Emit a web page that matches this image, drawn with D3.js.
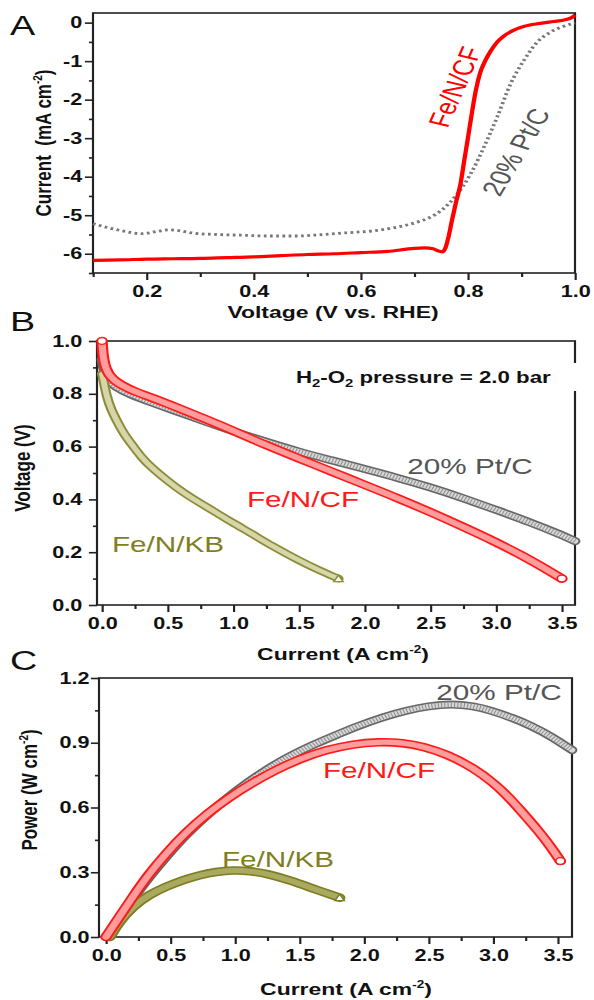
<!DOCTYPE html>
<html>
<head>
<meta charset="utf-8">
<script src="https://cdn.jsdelivr.net/npm/d3@7"></script>
<style>
body { margin: 0; background: #fff; }
svg { display: block; font-family: "Liberation Sans", Arial, sans-serif; }
.axis text { font-weight: bold; font-size: 16px; fill: #111; }
.axis line { stroke: #222; stroke-width: 1.6; }
.axis path.domain { display: none; }
.frame { fill: none; stroke: #222; stroke-width: 1.6; }
.title { font-weight: bold; font-size: 17px; fill: #111; }
.letter { font-size: 28px; fill: #111; }
.curve-label { font-size: 22px; }
</style>
</head>
<body>
<div id="chart"></div>
<script>
// ---- panel A: LSV curves (V vs RHE, mA cm-2)
var lsvFeNCF = [[0.10,-6.17],[0.15,-6.16],[0.20,-6.14],[0.25,-6.13],[0.30,-6.12],[0.35,-6.10],[0.40,-6.08],
    [0.45,-6.05],[0.50,-6.02],[0.55,-6.00],[0.60,-5.97],[0.65,-5.94],[0.70,-5.86],[0.72,-5.85],[0.735,-5.87],
    [0.745,-5.93],[0.752,-5.95],[0.758,-5.85],[0.764,-5.55],[0.770,-5.15],[0.778,-4.65],[0.786,-4.2],[0.793,-3.6],
    [0.800,-3.0],[0.808,-2.3],[0.815,-1.75],[0.823,-1.3],[0.832,-1.0],[0.842,-0.75],[0.855,-0.5],[0.867,-0.35],
    [0.885,-0.2],[0.904,-0.1],[0.935,-0.02],[0.96,0.03],[0.98,0.07],[0.995,0.14],[1.0,0.2]];
var lsvPtC = [[0.10,-5.22],[0.13,-5.33],[0.16,-5.42],[0.19,-5.48],[0.22,-5.42],[0.24,-5.38],[0.26,-5.40],
    [0.29,-5.47],[0.33,-5.50],[0.38,-5.52],[0.43,-5.54],[0.48,-5.54],[0.53,-5.50],[0.58,-5.45],[0.62,-5.41],
    [0.66,-5.33],[0.70,-5.20],[0.73,-5.05],[0.75,-4.88],[0.78,-4.45],[0.805,-3.93],[0.83,-3.23],[0.855,-2.44],
    [0.88,-1.58],[0.905,-0.97],[0.93,-0.50],[0.955,-0.24],[0.978,-0.10],[1.0,-0.01]];
var aTicksX = [0.2, 0.4, 0.6, 0.8, 1.0];
var aMinorX = [0.1, 0.3, 0.5, 0.7, 0.9];
var aTicksY = [0, -1, -2, -3, -4, -5, -6];
var aMinorY = [-0.5, -1.5, -2.5, -3.5, -4.5, -5.5, -6.5];

// ---- panel B: polarization curves (A cm-2, V)
var polFeNCF = [[0,1.0],[0.005,0.96],[0.01,0.94],[0.02,0.91],[0.04,0.885],[0.06,0.868],[0.1,0.848],[0.16,0.83],
    [0.25,0.808],[0.37,0.787],[0.5,0.762],[0.62,0.738],[0.8,0.702],[1.0,0.66],[1.25,0.605],[1.5,0.555],[1.75,0.505],
    [2.0,0.455],[2.25,0.405],[2.5,0.352],[2.75,0.296],[3.0,0.238],[3.2,0.187],[3.35,0.145],[3.5,0.1]];
var polPtC = [[0,0.93],[0.01,0.9],[0.03,0.87],[0.06,0.845],[0.1,0.828],[0.2,0.8],[0.4,0.763],[0.6,0.728],
    [0.8,0.692],[1.0,0.658],[1.25,0.618],[1.5,0.58],[1.75,0.548],[2.0,0.515],[2.25,0.482],[2.5,0.446],
    [2.75,0.405],[3.0,0.36],[3.25,0.315],[3.5,0.265],[3.6,0.242]];
var polFeNKB = [[0,0.875],[0.01,0.855],[0.035,0.79],[0.07,0.74],[0.11,0.7],[0.17,0.645],[0.24,0.6],[0.3,0.56],
    [0.365,0.526],[0.5,0.47],[0.62,0.425],[0.75,0.385],[0.87,0.35],[1.0,0.31],[1.13,0.273],[1.3,0.222],
    [1.5,0.168],[1.65,0.132],[1.8,0.1]];
var bTicksX = [0, 0.5, 1.0, 1.5, 2.0, 2.5, 3.0, 3.5];
var bMinorX = [0.25, 0.75, 1.25, 1.75, 2.25, 2.75, 3.25];
var bTicksY = [0, 0.2, 0.4, 0.6, 0.8, 1.0];
var bMinorY = [0.1, 0.3, 0.5, 0.7, 0.9];

// ---- panel C: power density (A cm-2, W cm-2)
var powFeNCF = [[0,0],[0.1,0.09],[0.21,0.188],[0.33,0.29],[0.47,0.39],[0.62,0.485],[0.78,0.57],[0.95,0.645],
    [1.12,0.71],[1.3,0.77],[1.5,0.825],[1.7,0.866],[1.9,0.893],[2.12,0.905],[2.3,0.9],[2.46,0.883],[2.65,0.845],
    [2.85,0.782],[3.0,0.715],[3.1,0.66],[3.2,0.595],[3.36,0.485],[3.45,0.415],[3.52,0.352]];
var powPtC = [[0,0],[0.1,0.085],[0.21,0.178],[0.33,0.275],[0.47,0.375],[0.62,0.475],[0.8,0.575],[1.0,0.675],
    [1.25,0.78],[1.43,0.84],[1.6,0.89],[1.8,0.94],[1.94,0.975],[2.15,1.02],[2.33,1.05],[2.5,1.07],[2.67,1.08],
    [2.85,1.07],[2.98,1.05],[3.15,1.015],[3.29,0.98],[3.45,0.93],[3.61,0.866]];
var powFeNKB = [[0.03,0],[0.1,0.07],[0.21,0.142],[0.33,0.195],[0.47,0.235],[0.6,0.265],[0.73,0.288],[0.85,0.302],
    [0.985,0.31],[1.12,0.306],[1.25,0.293],[1.43,0.262],[1.6,0.225],[1.81,0.182]];
var cTicksY = [0, 0.3, 0.6, 0.9, 1.2];
var cMinorY = [0.15, 0.45, 0.75, 1.05];

// the original figure is stretched sideways, so draw in a narrower box and stretch it
var SX = 594 / 440;

var svg = d3.select("#chart")
    .append("svg")
    .attr("width", 594)
    .attr("height", 1000)
    .attr("viewBox", "0 0 440 1000")
    .attr("preserveAspectRatio", "none");

var RED = "#ff1a1a", OLIVE = "#7f7f1e";

function panel(cfg) {
    var x = d3.scaleLinear().domain(cfg.xDomain).range([cfg.left / SX, cfg.right / SX]);
    var y = d3.scaleLinear().domain(cfg.yDomain).range([cfg.bottom, cfg.top]);
    var g = svg.append("g");

    g.append("g").attr("class", "axis")
        .attr("transform", "translate(0," + cfg.bottom + ")")
        .call(d3.axisBottom(x).tickValues(cfg.xMinor).tickSize(4).tickFormat(""));
    g.append("g").attr("class", "axis")
        .attr("transform", "translate(0," + cfg.bottom + ")")
        .call(d3.axisBottom(x).tickValues(cfg.xTicks).tickSize(7).tickPadding(6).tickFormat(cfg.xFormat));
    g.append("g").attr("class", "axis")
        .attr("transform", "translate(" + cfg.left / SX + ",0)")
        .call(d3.axisLeft(y).tickValues(cfg.yMinor).tickSize(3).tickFormat(""));
    g.append("g").attr("class", "axis")
        .attr("transform", "translate(" + cfg.left / SX + ",0)")
        .call(d3.axisLeft(y).tickValues(cfg.yTicks).tickSize(6).tickPadding(cfg.yPad).tickFormat(cfg.yFormat));

    g.append("rect").attr("class", "frame")
        .attr("x", cfg.left / SX).attr("y", cfg.top)
        .attr("width", (cfg.right - cfg.left) / SX).attr("height", cfg.bottom - cfg.top);

    g.append("text").attr("class", "letter")
        .attr("x", 10 / SX).attr("y", cfg.letterY).text(cfg.letter);

    return {g: g, x: x, y: y};
}

// text with a superscript like "cm-2"
function supText(sel, before, sup, after) {
    sel.append("tspan").text(before);
    sel.append("tspan").attr("dy", -7).style("font-size", "10px").text(sup);
    sel.append("tspan").attr("dy", 7).text(after);
}

function xTitle(cx, y, before, sup, after) {
    var t = svg.append("text").attr("class", "title")
        .attr("x", cx / SX).attr("y", y).attr("text-anchor", "middle");
    if (sup) supText(t, before, sup, after); else t.text(before);
}

function yTitle(bx, cy, before, sup, after) {
    var t = svg.append("text").attr("class", "title")
        .attr("transform", "translate(" + bx / SX + "," + cy + ") rotate(-90)")
        .attr("text-anchor", "middle");
    if (sup) supText(t, before, sup, after); else t.text(before);
}

// thick band of dense open markers, drawn as an outlined tube
function tube(p, data, st) {
    var line = d3.line()
        .x(function(d) { return p.x(d[0]); })
        .y(function(d) { return p.y(d[1]); })
        .curve(d3.curveBasis);
    p.g.append("path").datum(data).attr("d", line)
        .attr("fill", "none").attr("stroke", st.edge).attr("stroke-width", st.w)
        .attr("stroke-linejoin", "round").attr("stroke-linecap", "round");
    p.g.append("path").datum(data).attr("d", line)
        .attr("fill", "none").attr("stroke", st.core).attr("stroke-width", st.w - 3.2)
        .attr("stroke-linejoin", "round").attr("stroke-linecap", "round");
    if (st.hatch) {
        p.g.append("path").datum(data).attr("d", line)
            .attr("fill", "none").attr("stroke", st.hatch).attr("stroke-width", st.w - 3.2)
            .attr("stroke-dasharray", "0.8,1.6");
    }
}

function endMarker(p, d, shape, color) {
    var cx = p.x(d[0]), cy = p.y(d[1]);
    if (shape == "circle") {
        p.g.append("circle").attr("cx", cx).attr("cy", cy).attr("r", 3.4)
            .attr("fill", "#fff").attr("stroke", color).attr("stroke-width", 1.3);
    } else if (shape == "triangle") {
        p.g.append("path")
            .attr("d", "M" + (cx - 3.5) + "," + (cy + 3) + "L" + (cx + 3.5) + "," + (cy + 3) + "L" + cx + "," + (cy - 3.5) + "Z")
            .attr("fill", "#fff").attr("stroke", color).attr("stroke-width", 1.2);
    } else {
        p.g.append("rect").attr("x", cx - 3).attr("y", cy - 3.5).attr("width", 6).attr("height", 7)
            .attr("fill", "#fff").attr("stroke", color).attr("stroke-width", 1.2);
    }
}

function label(p, px, py, txt, color, rot) {
    var t = p.g.append("text").attr("class", "curve-label")
        .attr("fill", color).text(txt);
    if (rot) {
        t.attr("transform", "translate(" + px / SX + "," + py + ") rotate(" + rot + ")")
            .attr("text-anchor", "middle").attr("dominant-baseline", "central");
    } else {
        t.attr("x", px / SX).attr("y", py).attr("text-anchor", "middle");
    }
}

var fmt1 = d3.format(".1f");

// ================= A
var pa = panel({
    left: 93, right: 575, top: 13, bottom: 273,
    xDomain: [0.1, 1.0], yDomain: [-6.5, 0.25],
    xTicks: aTicksX, xMinor: aMinorX, yTicks: aTicksY, yMinor: aMinorY,
    xFormat: fmt1, yFormat: function(d) { return String(d); }, yPad: 2,
    letter: "A", letterY: 35
});

var lineA = d3.line()
    .x(function(d) { return pa.x(d[0]); })
    .y(function(d) { return pa.y(d[1]); })
    .curve(d3.curveMonotoneX);

pa.g.append("path").datum(lsvPtC).attr("d", lineA)
    .attr("fill", "none").attr("stroke", "#777").attr("stroke-width", 2.8)
    .attr("stroke-dasharray", "2,2.6");
pa.g.append("path").datum(lsvFeNCF).attr("d", lineA)
    .attr("fill", "none").attr("stroke", "#ff0000").attr("stroke-width", 3.2);

label(pa, 455, 87, "Fe/N/CF", "#ff0000", -72);
label(pa, 516, 152, "20% Pt/C", "#555", -66);

xTitle(333, 318, "Voltage (V vs. RHE)");
yTitle(51, 143, "Current\u00a0 (mA cm", "-2", ")");

// ================= B
var pb = panel({
    left: 97, right: 575, top: 341, bottom: 605,
    xDomain: [-0.038, 3.6], yDomain: [0, 1.0],
    xTicks: bTicksX, xMinor: bMinorX, yTicks: bTicksY, yMinor: bMinorY,
    xFormat: fmt1, yFormat: fmt1, yPad: 5,
    letter: "B", letterY: 331
});

tube(pb, polPtC, {edge: "#666", core: "#d8d8d8", hatch: "#8a8a8a", w: 8});
tube(pb, polFeNKB, {edge: "#8c8c3a", core: "#d6d6a8", w: 7.5});
tube(pb, polFeNCF, {edge: RED, core: "#ff9c9c", w: 8.5});
endMarker(pb, polFeNCF[0], "circle", RED);
endMarker(pb, polFeNCF[polFeNCF.length - 1], "circle", RED);
endMarker(pb, polFeNKB[polFeNKB.length - 1], "triangle", "#8c8c3a");

// pressure note with white background
pb.g.append("rect").attr("x", 290 / SX).attr("y", 363)
    .attr("width", 288 / SX).attr("height", 28).attr("fill", "#fff");
var note = pb.g.append("text").attr("class", "title")
    .style("font-size", "16.5px")
    .attr("x", 296 / SX).attr("y", 383);
note.append("tspan").text("H");
note.append("tspan").attr("dy", 4).style("font-size", "11px").text("2");
note.append("tspan").attr("dy", -4).text("-O");
note.append("tspan").attr("dy", 4).style("font-size", "11px").text("2");
note.append("tspan").attr("dy", -4).text(" pressure = 2.0 bar");

label(pb, 470, 474, "20% Pt/C", "#555");
label(pb, 303, 507, "Fe/N/CF", RED);
label(pb, 168, 552, "Fe/N/KB", OLIVE);

xTitle(343, 660, "Current (A cm", "-2", ")");
yTitle(30, 468, "Voltage (V)");

// ================= C
var pc = panel({
    left: 99, right: 572, top: 678, bottom: 937,
    xDomain: [-0.054, 3.61], yDomain: [0, 1.2],
    xTicks: bTicksX, xMinor: bMinorX, yTicks: cTicksY, yMinor: cMinorY,
    xFormat: fmt1, yFormat: fmt1, yPad: 1,
    letter: "C", letterY: 670
});

tube(pc, powPtC, {edge: "#666", core: "#d8d8d8", hatch: "#8a8a8a", w: 8});
tube(pc, powFeNKB, {edge: "#7d7d22", core: "#a9a960", w: 8.5});
tube(pc, powFeNCF, {edge: RED, core: "#ff9c9c", w: 8.5});
endMarker(pc, powFeNCF[powFeNCF.length - 1], "circle", RED);
endMarker(pc, powFeNKB[powFeNKB.length - 1], "triangle", "#7d7d22");

label(pc, 499, 700, "20% Pt/C", "#555");
label(pc, 379, 778, "Fe/N/CF", RED);
label(pc, 278, 867, "Fe/N/KB", OLIVE);

xTitle(346, 995, "Current (A cm", "-2", ")");
yTitle(37, 790, "Power (W cm", "-2", ")");
</script>
</body>
</html>
